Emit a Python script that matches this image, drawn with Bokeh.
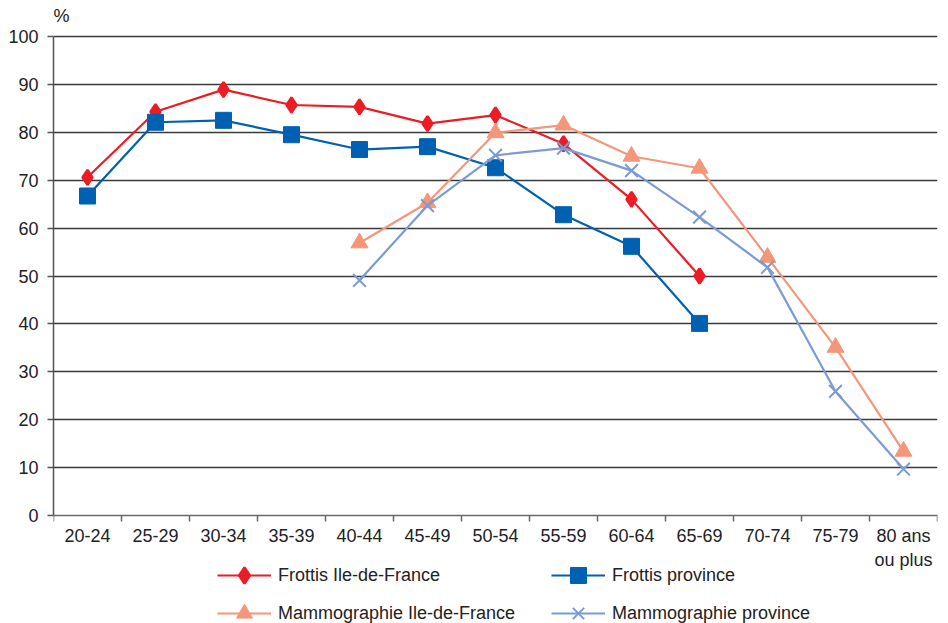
from bokeh.plotting import figure
from bokeh.models import (Range1d, LinearAxis, FixedTicker,
                          Legend, LegendItem, Label, ColumnDataSource)
from bokeh.embed import file_html
from bokeh.resources import INLINE

# Age groups and screening rates (%)
categories = ["20-24", "25-29", "30-34", "35-39", "40-44", "45-49", "50-54",
              "55-59", "60-64", "65-69", "70-74", "75-79", "80 ans\nou plus"]

frottis_idf_ages = categories[:10]
frottis_idf = [70.6, 84.3, 88.9, 85.7, 85.3, 81.8, 83.6, 77.6, 66.0, 50.0]

frottis_prov_ages = categories[:10]
frottis_prov = [66.7, 82.1, 82.5, 79.5, 76.4, 77.0, 72.6, 62.8, 56.2, 40.1]

mammo_idf_ages = categories[4:]
mammo_idf = [56.9, 65.3, 79.9, 81.5, 75.0, 72.5, 53.9, 35.1, 13.4]

mammo_prov_ages = categories[4:]
mammo_prov = [49.1, 64.7, 75.2, 76.7, 72.0, 62.3, 51.8, 25.9, 9.7]

y_ticks = list(range(0, 101, 10))

FONT = "'Liberation Sans Narrow', 'Arial Narrow', 'Liberation Sans', sans-serif"
TEXT = "#222222"

W, H = 948, 623
FRAME_LEFT, FRAME_RIGHT = 53, 937                # pixel columns
Y100_PX, Y0_PX = 36, 515                         # pixel rows of 100 % and 0 %
n = len(categories)
y_unit = (Y0_PX - Y100_PX) / 100.0               # pixels per percentage point

# each age group occupies one unit slot, centred at index + 0.5
slot = {c: i + 0.5 for i, c in enumerate(categories)}
centers = [slot[c] for c in categories]
bounds = list(range(n + 1))

# the plotting frame covers the whole page height (legend and "%" caption sit
# inside it); the x axis is pinned at 0 % and the y axis limited to 0-100
p = figure(width=W, height=H,
           x_range=Range1d(0, n),
           y_range=Range1d(-(H - Y0_PX) / y_unit, 100 + Y100_PX / y_unit),
           x_axis_location=None, y_axis_location=None,
           toolbar_location=None, output_backend="svg",
           min_border_left=FRAME_LEFT, min_border_right=W - FRAME_RIGHT,
           min_border_top=0, min_border_bottom=0)
p.outline_line_color = None
p.background_fill_color = "white"
p.border_fill_color = "white"

x_axis = LinearAxis(ticker=FixedTicker(ticks=centers, minor_ticks=bounds),
                    fixed_location=0)
x_axis.major_label_overrides = {slot[c]: c for c in categories}
x_axis.axis_line_color = "#6a6a6a"
x_axis.axis_line_width = 1.5
x_axis.major_tick_line_color = None
x_axis.minor_tick_line_color = "#6a6a6a"
x_axis.minor_tick_line_width = 1.5
x_axis.minor_tick_in = 0
x_axis.minor_tick_out = 6
x_axis.major_tick_in = 0
x_axis.major_tick_out = 6
x_axis.major_label_text_font = FONT
x_axis.major_label_text_font_size = "18px"
x_axis.major_label_text_color = TEXT
x_axis.major_label_standoff = 4
p.add_layout(x_axis, "below")

y_axis = LinearAxis(ticker=FixedTicker(ticks=y_ticks), bounds=(0, 100))
y_axis.axis_line_color = "#555555"
y_axis.axis_line_width = 1.5
y_axis.major_tick_line_color = "#555555"
y_axis.major_tick_line_width = 1.5
y_axis.major_tick_in = 0
y_axis.major_tick_out = 6
y_axis.minor_tick_line_color = None
y_axis.major_label_text_font = FONT
y_axis.major_label_text_font_size = "18px"
y_axis.major_label_text_color = TEXT
y_axis.major_label_standoff = 9
p.add_layout(y_axis, "left")

p.xgrid.grid_line_color = None
p.ygrid.ticker = FixedTicker(ticks=y_ticks[1:])
p.ygrid.grid_line_color = "#3a3a3a"
p.ygrid.grid_line_width = 1.3

# name, ages, values, colour, marker, size, outline width
series = [
    ("Frottis Ile-de-France", frottis_idf_ages, frottis_idf, "#ED1C24", "diamond", 15, 2.5),
    ("Frottis province", frottis_prov_ages, frottis_prov, "#0061B2", "square", 16, 1),
    ("Mammographie Ile-de-France", mammo_idf_ages, mammo_idf, "#F4967A", "triangle", 17, 1),
    ("Mammographie province", mammo_prov_ages, mammo_prov, "#7B9BD6", "x", 18, 2),
]

legend_items = []
for name, ages, vals, color, marker, size, lw in series:
    src = ColumnDataSource(data=dict(x=[slot[a] for a in ages], rate=vals))
    ln = p.line("x", "rate", source=src, line_color=color, line_width=2.2)
    sc = p.scatter("x", "rate", source=src, marker=marker, size=size,
                   fill_color=color, line_color=color, line_width=lw)
    legend_items.append(LegendItem(label=name, renderers=[ln, sc]))

# Legend: two columns, two rows under the axis labels
row1_bottom = H - (575 + 20)
row2_bottom = H - (613 + 20)
col1, col2 = 217 - FRAME_LEFT, 551 - FRAME_LEFT
positions = [(col1, row1_bottom), (col2, row1_bottom),
             (col1, row2_bottom), (col2, row2_bottom)]
for item, loc in zip(legend_items, positions):
    lg = Legend(items=[item], location=loc, orientation="vertical",
                glyph_width=54, glyph_height=40, label_standoff=7,
                label_text_font=FONT, label_text_font_size="18px",
                label_text_color=TEXT, padding=0, margin=0, spacing=0,
                border_line_color=None, background_fill_alpha=0)
    p.add_layout(lg)

p.add_layout(Label(x=0, y=H - 15, x_units="screen", y_units="screen",
                   text="%", text_font=FONT, text_font_size="18px", text_color=TEXT,
                   text_baseline="middle"))

open("out.html", "w").write(file_html(p, INLINE))
